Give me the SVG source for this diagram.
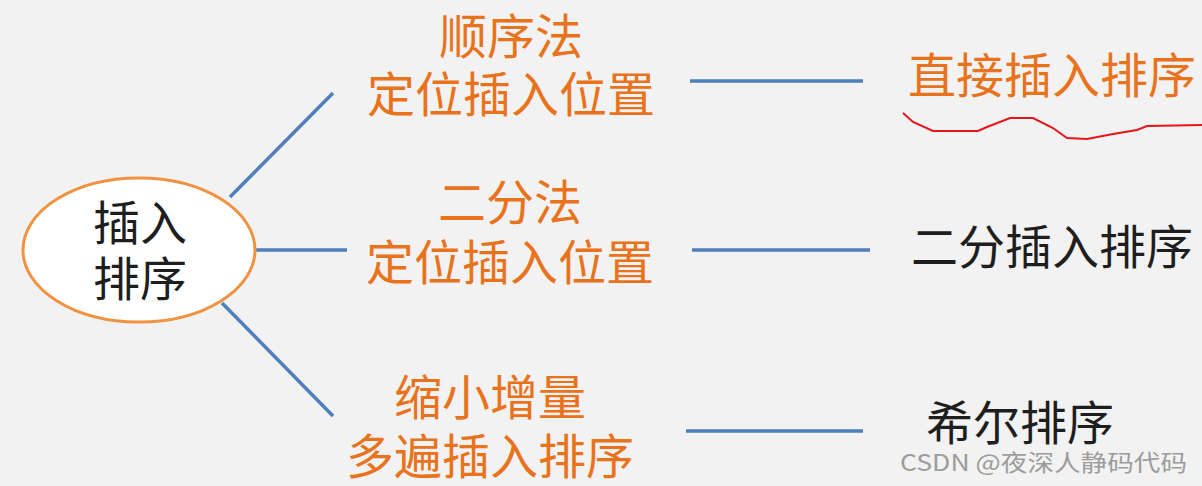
<svg xmlns="http://www.w3.org/2000/svg" width="1202" height="486" viewBox="0 0 1202 486">
<style>
text{font-family:"Microsoft YaHei","Noto Sans CJK SC",sans-serif;text-anchor:middle}
.o{fill:#e8731c;font-size:48px}
.k{fill:#1e1e1e;font-size:47px}
.c{stroke:#4f7fbd;stroke-width:3.5;fill:none}
.wm{fill:#9c9c9c;font-size:23px;font-family:"Noto Sans CJK SC",sans-serif;text-anchor:start}
</style>
<rect width="1202" height="486" fill="#f2f2f2"/>
<g id="connectors">
<line class="c" x1="230" y1="197" x2="333" y2="93"/>
<line class="c" x1="255" y1="250" x2="347" y2="250"/>
<line class="c" x1="222" y1="303" x2="333" y2="416"/>
<line class="c" x1="690" y1="81" x2="863" y2="81"/>
<line class="c" x1="692" y1="250" x2="870" y2="250"/>
<line class="c" x1="686" y1="431" x2="863" y2="431"/>
</g>
<g id="root">
<ellipse cx="139" cy="250" rx="116" ry="72" fill="#ffffff" stroke="#f0923f" stroke-width="3"/>
<text class="k" x="140" y="240">插入</text>
<text class="k" x="140" y="296">排序</text>
</g>
<g id="method1">
<text class="o" x="511" y="54">顺序法</text>
<text class="o" x="511" y="112">定位插入位置</text>
</g>
<g id="method2">
<text class="o" x="510" y="220">二分法</text>
<text class="o" x="510" y="280">定位插入位置</text>
</g>
<g id="method3">
<text class="o" x="490" y="415">缩小增量</text>
<text class="o" x="490" y="474">多遍插入排序</text>
</g>
<g id="result1">
<text class="o" x="1052" y="93">直接插入排序</text>
<polyline points="903,113 913,122 933,131 978,131 987,127 1010,118 1033,118 1053,128 1067,138 1087,139 1113,134 1137,130 1147,126 1202,125" fill="none" stroke="#e8141c" stroke-width="2"/>
</g>
<g id="result2">
<text class="k" x="1052" y="264">二分插入排序</text>
</g>
<g id="result3">
<text class="k" x="1020" y="440">希尔排序</text>
</g>
<text class="wm" x="900" y="471" textLength="287" lengthAdjust="spacingAndGlyphs">CSDN @夜深人静码代码</text>
</svg>
